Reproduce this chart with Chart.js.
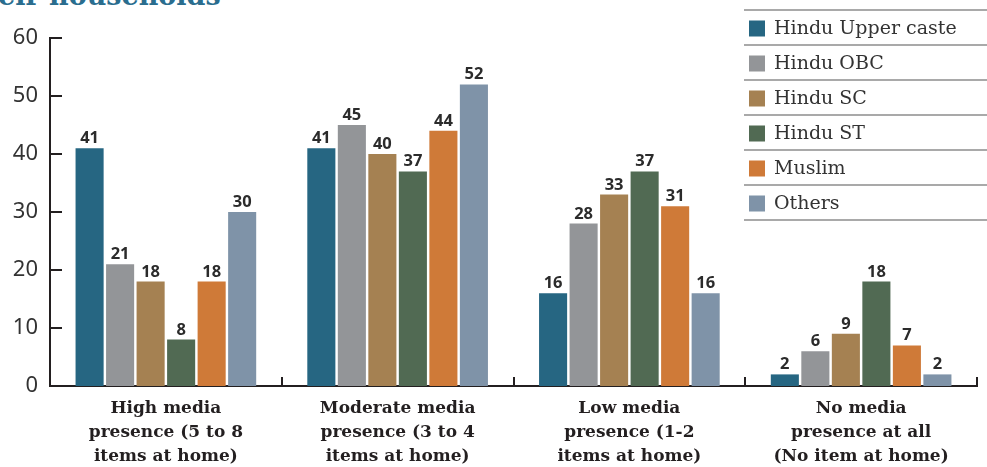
<!DOCTYPE html>
<html>
<head>
<meta charset="utf-8">
<script src="https://cdn.jsdelivr.net/npm/chart.js@4.4.1/dist/chart.umd.min.js"></script>
<style>
  html, body { margin: 0; padding: 0; background: #fff; overflow: hidden; }
  #wrap { position: relative; width: 987px; height: 467px; }
  #heading {
    position: absolute; left: -2px; top: -20px;
    font-family: "DejaVu Serif", serif; font-weight: bold; font-size: 27px;
    color: #2a6d8e; white-space: nowrap;
  }
  canvas { position: absolute; left: 0; top: 0; }
</style>
</head>
<body>
<div id="wrap">
  <div id="heading">eir households</div>
  <canvas id="c" width="987" height="467"></canvas>
</div>
<script>
// Categories (multi-line tick labels)
const categories = [
  ["High media", "presence (5 to 8", "items at home)"],
  ["Moderate media", "presence (3 to 4", "items at home)"],
  ["Low media", "presence (1-2", "items at home)"],
  ["No media", "presence at all", "(No item at home)"]
];

// Series labels and values (% of households)
const seriesNames = ["Hindu Upper caste", "Hindu OBC", "Hindu SC", "Hindu ST", "Muslim", "Others"];
const upperCaste = [41, 41, 16, 2];
const obc        = [21, 45, 28, 6];
const sc         = [18, 40, 33, 9];
const st         = [8, 37, 37, 18];
const muslim     = [18, 44, 31, 7];
const others     = [30, 52, 16, 2];

// Y-axis ticks
const yTicks = [0, 10, 20, 30, 40, 50, 60];

const seriesColors = ["#266682", "#939598", "#a58152", "#516a53", "#cf7a38", "#7f93a8"];
const seriesValues = [upperCaste, obc, sc, st, muslim, others];

const datasets = seriesNames.map((name, i) => ({
  label: name,
  data: seriesValues[i],
  backgroundColor: seriesColors[i],
  borderWidth: 0,
  barPercentage: 0.92,
  categoryPercentage: 0.79
}));

const AXIS = "#231f20";

// Value labels above each bar
const valueLabels = {
  id: "valueLabels",
  afterDatasetsDraw(chart) {
    const ctx = chart.ctx;
    ctx.save();
    ctx.font = "bold 16.5px 'Open Sans', sans-serif";
    ctx.fillStyle = "#2b2b2b";
    ctx.textAlign = "center";
    ctx.textBaseline = "alphabetic";
    chart.data.datasets.forEach((ds, di) => {
      chart.getDatasetMeta(di).data.forEach((bar, j) => {
        ctx.fillText(String(ds.data[j]), bar.x, bar.y - 5);
      });
    });
    ctx.restore();
  }
};

// Inward tick marks on both axes
const axisMarks = {
  id: "axisMarks",
  afterDraw(chart) {
    const ctx = chart.ctx;
    const x = chart.scales.x, y = chart.scales.y;
    ctx.save();
    ctx.strokeStyle = AXIS;
    ctx.lineWidth = 2;
    yTicks.forEach(v => {
      if (v === 0) return;
      const py = Math.round(y.getPixelForValue(v));
      ctx.beginPath();
      ctx.moveTo(x.left, py);
      ctx.lineTo(x.left + 12, py);
      ctx.stroke();
    });
    const n = categories.length;
    for (let i = 1; i <= n; i++) {
      const px = i === n ? x.right : Math.round((x.getPixelForValue(i - 1) + x.getPixelForValue(i)) / 2);
      ctx.beginPath();
      ctx.moveTo(px, y.bottom);
      ctx.lineTo(px, y.bottom - 9);
      ctx.stroke();
    }
    ctx.restore();
  }
};

// Boxed legend with rule lines
const ruledLegend = {
  id: "ruledLegend",
  afterDraw(chart) {
    const ctx = chart.ctx;
    const left = 744, right = 987, top = 10, rowH = 35;
    ctx.save();
    ctx.fillStyle = "#fff";
    ctx.fillRect(left, top, right - left, rowH * seriesNames.length);
    ctx.strokeStyle = "#a9a9a9";
    ctx.lineWidth = 2;
    for (let i = 0; i <= seriesNames.length; i++) {
      const ly = top + i * rowH;
      ctx.beginPath();
      ctx.moveTo(left, ly);
      ctx.lineTo(right, ly);
      ctx.stroke();
    }
    ctx.font = "19px 'DejaVu Serif', serif";
    ctx.textBaseline = "middle";
    ctx.textAlign = "left";
    seriesNames.forEach((name, i) => {
      const cy = top + i * rowH + rowH / 2 + 1;
      ctx.fillStyle = seriesColors[i];
      ctx.fillRect(749, cy - 8, 16, 16);
      ctx.fillStyle = "#333";
      ctx.fillText(name, 774, cy + 1);
    });
    ctx.restore();
  }
};

new Chart(document.getElementById("c"), {
  type: "bar",
  data: { labels: categories, datasets },
  options: {
    responsive: false,
    animation: false,
    layout: { padding: { top: 38, right: 10, left: 0, bottom: 0 } },
    plugins: { legend: { display: false }, tooltip: { enabled: false } },
    scales: {
      x: {
        grid: { display: false, drawTicks: false },
        border: { display: true, color: AXIS, width: 2 },
        ticks: {
          color: "#231f20",
          font: { family: "'DejaVu Serif', serif", size: 17, weight: "bold", lineHeight: 1.4 },
          padding: 11,
          maxRotation: 0,
          autoSkip: false
        },
        afterFit(scale) { scale.height = 81; }
      },
      y: {
        min: 0, max: 60,
        grid: { display: false, drawTicks: false },
        border: { display: true, color: AXIS, width: 2 },
        ticks: {
          stepSize: 10,
          color: "#333",
          font: { family: "'Noto Sans', sans-serif", size: 22 },
          padding: 12
        },
        afterFit(scale) { scale.width = 50; }
      }
    }
  },
  plugins: [valueLabels, axisMarks, ruledLegend]
});
</script>
</body>
</html>
